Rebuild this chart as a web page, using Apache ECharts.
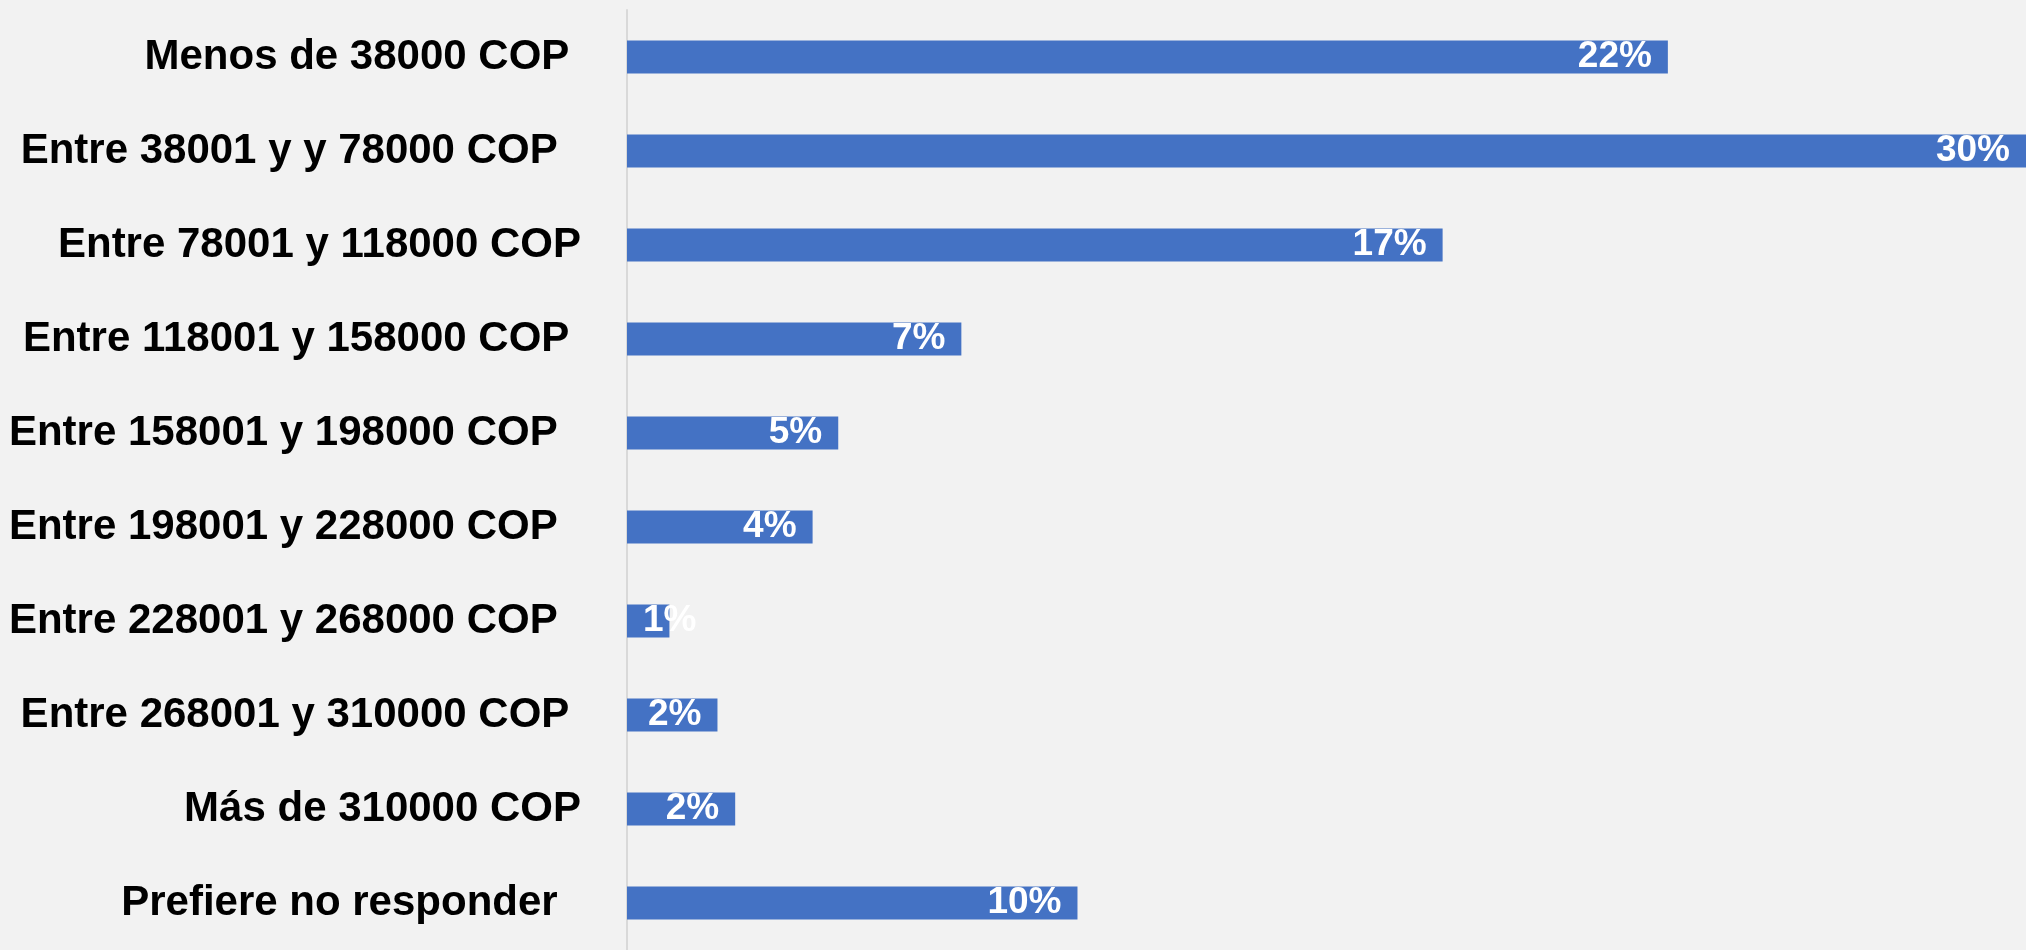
<!DOCTYPE html>
<html>
<head>
<meta charset="utf-8">
<script src="https://cdn.jsdelivr.net/npm/echarts@6/dist/echarts.min.js"></script>
<style>
  html, body { margin: 0; padding: 0; background: #f2f2f2; }
  #chart { width: 2026px; height: 950px; }
</style>
</head>
<body>
<div id="chart"></div>
<script>
const categories = [
  'Menos de 38000 COP ',
  'Entre 38001 y y 78000 COP  ',
  'Entre 78001 y 118000 COP',
  'Entre 118001 y 158000 COP ',
  'Entre 158001 y 198000 COP  ',
  'Entre 198001 y 228000 COP  ',
  'Entre 228001 y 268000 COP  ',
  'Entre 268001 y 310000 COP ',
  'Más de 310000 COP',
  'Prefiere no responder  '
];
const values = [22.32, 30.0, 17.49, 7.17, 4.53, 3.98, 0.91, 1.94, 2.32, 9.66];

const chart = echarts.init(document.getElementById('chart'), null, { renderer: 'canvas' });

const seriesData = values.map(function (v) {
  const item = { value: v };
  if (v < 1.5) {
    item.label = { position: 'insideLeft', distance: 16 };
  }
  return item;
});

chart.setOption({
  backgroundColor: '#f2f2f2',
  animation: false,
  grid: { left: 627, right: -11, top: 10, bottom: -5, containLabel: false },
  xAxis: {
    type: 'value',
    min: 0,
    max: 30,
    show: false,
    splitLine: { show: false }
  },
  yAxis: {
    type: 'category',
    data: categories,
    inverse: true,
    axisLine: { show: true, lineStyle: { color: '#d9d9d9', width: 2 } },
    axisTick: { show: false },
    axisLabel: {
      margin: 46,
      color: '#000000',
      fontFamily: 'Liberation Sans',
      fontWeight: 'bold',
      fontSize: 42
    }
  },
  series: [{
    type: 'bar',
    data: seriesData,
    barWidth: 33,
    itemStyle: { color: '#4472c4' },
    label: {
      show: true,
      position: 'insideRight',
      distance: 16,
      color: '#ffffff',
      fontFamily: 'Liberation Sans',
      fontWeight: 'bold',
      fontSize: 37,
      formatter: function (p) { return Math.round(p.value) + '%'; }
    }
  }]
});
</script>
</body>
</html>
